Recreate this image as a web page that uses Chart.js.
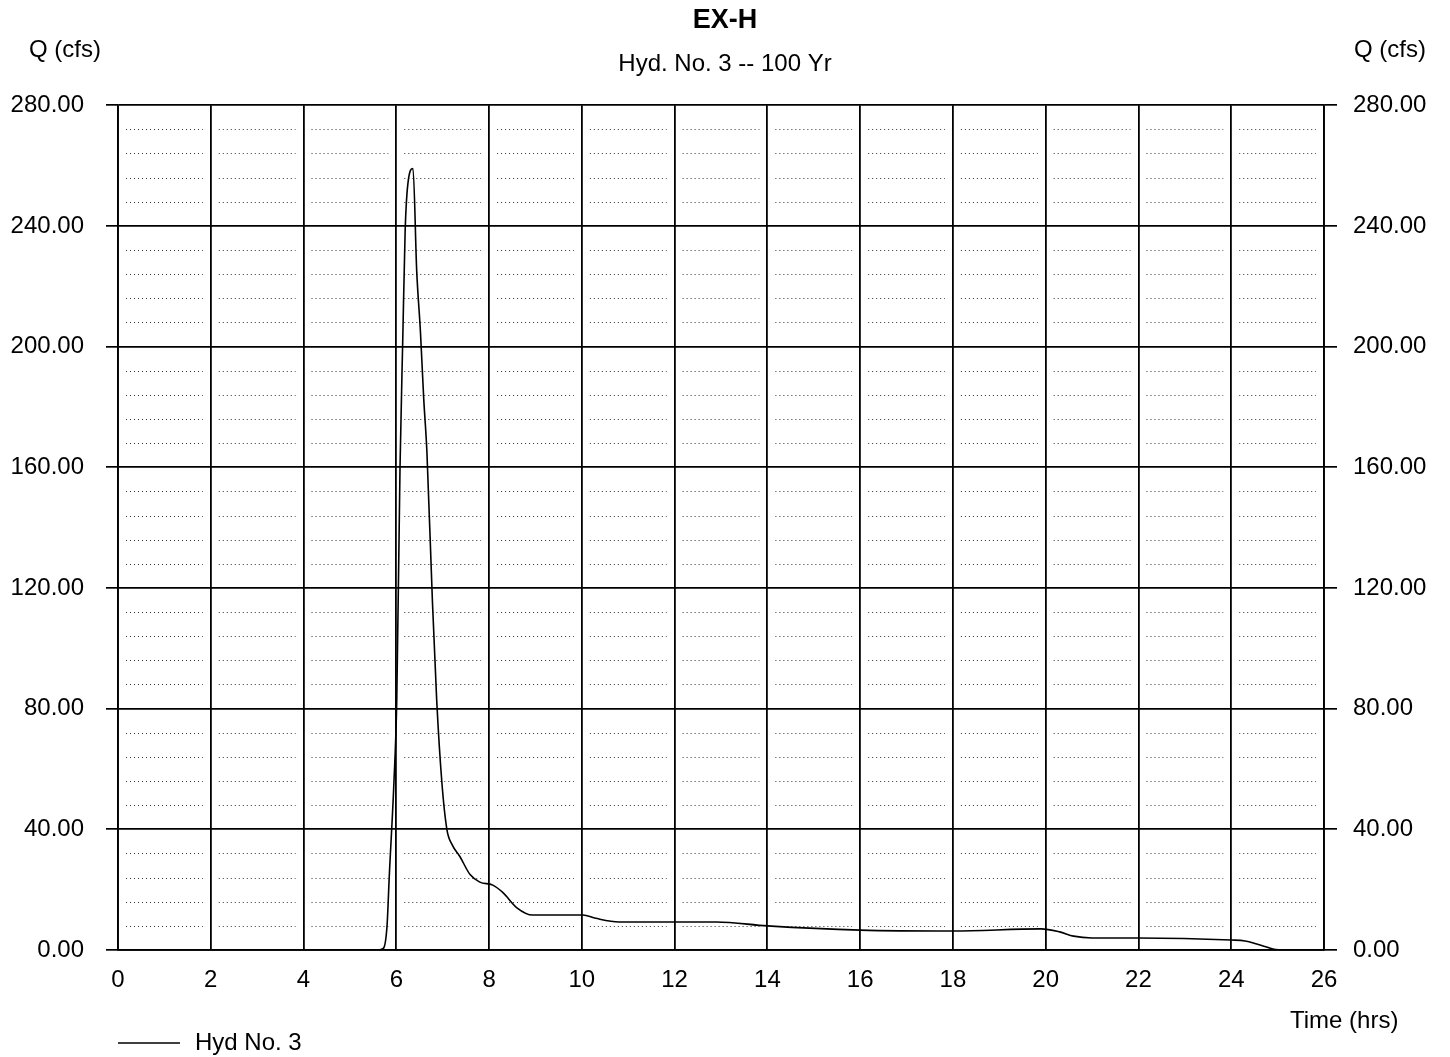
<!DOCTYPE html>
<html>
<head>
<meta charset="utf-8">
<script src="https://cdn.jsdelivr.net/npm/chart.js@4.4.1/dist/chart.umd.min.js"></script>
<style>
  html, body { margin: 0; padding: 0; background: #fff; }
  #wrap { width: 1450px; height: 1057px; position: relative; }
</style>
</head>
<body>
<div id="wrap"><canvas id="c" width="1450" height="1057"></canvas></div>
<script>
// ---- Data ----
const chartTitle = 'EX-H';
const chartSubtitle = 'Hyd. No. 3 -- 100 Yr';
const yAxisLabel = 'Q (cfs)';
const xAxisLabel = 'Time (hrs)';
const seriesName = 'Hyd No. 3';

const hours = [0, 5.6, 5.72, 5.8, 5.85, 5.95, 6.01, 6.08, 6.14, 6.19, 6.25, 6.36,
  6.44, 6.52, 6.59, 6.66, 6.78, 6.87, 6.98, 7.09, 7.2, 7.37, 7.59, 7.8, 8.08,
  8.3, 8.6, 8.94, 10.02, 10.3, 10.8, 12.9, 14, 16, 18, 19.9, 20.3, 20.6, 21,
  22, 24, 24.3, 24.55, 24.76, 24.9, 25.2, 26];
const flows = [0, 0, 0.5, 8, 25, 56, 83, 160, 203, 238, 254, 259,
  225, 205, 183, 165, 115, 83, 56, 40, 35, 31, 25, 22.5, 21.5,
  19, 14, 11.6, 11.6, 10.5, 9.3, 9.3, 8, 6.6, 6.3, 7, 6, 4.6, 4,
  4, 3.3, 3, 2, 1, 0.3, 0, 0];

const xTicks = [0, 2, 4, 6, 8, 10, 12, 14, 16, 18, 20, 22, 24, 26];
const yMajorTicks = [0, 40, 80, 120, 160, 200, 240, 280];
const yMinorTicks = [8, 16, 24, 32, 48, 56, 64, 72, 88, 96, 104, 112, 128, 136, 144, 152,
  168, 176, 184, 192, 208, 216, 224, 232, 248, 256, 264, 272];

const points = hours.map((h, i) => ({ x: h, y: flows[i] }));
const FONT = '"Liberation Sans", Arial, sans-serif';

// Minor dotted grid and free text
const extras = {
  id: 'extras',
  beforeDatasetsDraw(chart) {
    const { ctx, scales } = chart;
    ctx.save();
    ctx.strokeStyle = '#333';
    ctx.lineWidth = 1;
    ctx.setLineDash([1, 3]);
    yMinorTicks.forEach(v => {
      const y = Math.round(scales.y.getPixelForValue(v)) + 0.5;
      for (let i = 0; i < xTicks.length - 1; i++) {
        const x0 = scales.x.getPixelForValue(xTicks[i]) + 8;
        const x1 = scales.x.getPixelForValue(xTicks[i + 1]) - 8;
        ctx.beginPath(); ctx.moveTo(x0, y); ctx.lineTo(x1, y); ctx.stroke();
      }
    });
    ctx.restore();
  },
  afterDraw(chart) {
    const { ctx, chartArea: a } = chart;
    ctx.save();
    ctx.fillStyle = '#000';
    ctx.font = '24px ' + FONT;
    ctx.textBaseline = 'middle';
    ctx.textAlign = 'center';
    ctx.fillText(yAxisLabel, 65, 50);
    ctx.fillText(yAxisLabel, 1390, 50);
    ctx.textAlign = 'left';
    ctx.fillText(xAxisLabel, 1290, 1021);
    // legend
    ctx.strokeStyle = '#000';
    ctx.lineWidth = 1.5;
    ctx.beginPath(); ctx.moveTo(a.left, 1043); ctx.lineTo(a.left + 62, 1043); ctx.stroke();
    ctx.fillText(seriesName, a.left + 77, 1043);
    ctx.restore();
  }
};

new Chart(document.getElementById('c'), {
  type: 'line',
  data: {
    datasets: [{
      label: seriesName,
      data: points,
      borderColor: '#000',
      borderWidth: 1.6,
      pointRadius: 0,
      fill: false,
      cubicInterpolationMode: 'monotone',
      yAxisID: 'y'
    }]
  },
  options: {
    responsive: false,
    animation: false,
    devicePixelRatio: 1,
    layout: { padding: { left: 0, right: 0, top: 0, bottom: 0 } },
    plugins: {
      legend: { display: false },
      tooltip: { enabled: false },
      title: {
        display: true, text: chartTitle, color: '#000',
        font: { family: FONT, size: 27, weight: 'bold' },
        padding: { top: 4, bottom: 14 }
      },
      subtitle: {
        display: true, text: chartSubtitle, color: '#000',
        font: { family: FONT, size: 24 },
        padding: { top: 0, bottom: 26 }
      }
    },
    scales: {
      x: {
        type: 'linear', min: 0, max: 26,
        afterBuildTicks: s => { s.ticks = xTicks.map(v => ({ value: v })); },
        afterFit: s => { s.height = 107; },
        grid: { color: '#000', lineWidth: 1.8, drawTicks: false },
        border: { display: true, color: '#000', width: 1.8 },
        ticks: { color: '#000', font: { family: FONT, size: 24 }, padding: 16, maxRotation: 0,
          callback: v => String(v) }
      },
      y: {
        position: 'left', min: 0, max: 280,
        afterBuildTicks: s => { s.ticks = yMajorTicks.map(v => ({ value: v })); },
        afterFit: s => { s.width = 118; },
        grid: { color: '#000', lineWidth: 1.7, drawTicks: true, tickLength: 12 },
        border: { display: true, color: '#000', width: 1.8 },
        ticks: { color: '#000', font: { family: FONT, size: 24 }, padding: 22,
          callback: v => Number(v).toFixed(2) }
      },
      y2: {
        position: 'right', min: 0, max: 280,
        afterBuildTicks: s => { s.ticks = yMajorTicks.map(v => ({ value: v })); },
        afterFit: s => { s.width = 126; },
        grid: { color: '#000', lineWidth: 1.7, drawOnChartArea: false, drawTicks: true, tickLength: 13 },
        border: { display: true, color: '#000', width: 1.8 },
        ticks: { color: '#000', font: { family: FONT, size: 24 }, padding: 16,
          callback: v => Number(v).toFixed(2) }
      }
    }
  },
  plugins: [extras]
});
</script>
</body>
</html>
